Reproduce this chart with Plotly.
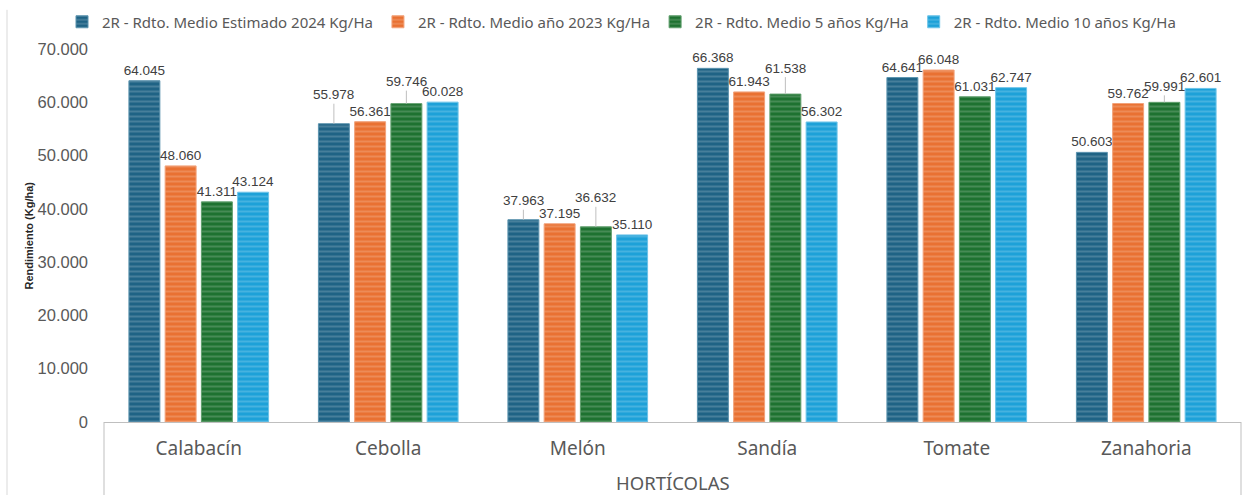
import plotly.graph_objects as go

# ==== Data ====
cultivos = ["Calabacín", "Cebolla", "Melón", "Sandía", "Tomate", "Zanahoria"]
series_names = [
    "2R - Rdto. Medio Estimado 2024 Kg/Ha",
    "2R - Rdto. Medio año 2023 Kg/Ha",
    "2R - Rdto. Medio 5 años Kg/Ha",
    "2R - Rdto. Medio 10 años Kg/Ha",
]
rdto_2024 = [64045, 55978, 37963, 66368, 64641, 50603]
rdto_2023 = [48060, 56361, 37195, 61943, 66048, 59762]
rdto_5 = [41311, 59746, 36632, 61538, 61031, 59991]
rdto_10 = [43124, 60028, 35110, 56302, 62747, 62601]
y_ticks = [0, 10000, 20000, 30000, 40000, 50000, 60000, 70000]

# ==== Style ====
colors = ["#1F6385", "#E97132", "#1E7230", "#1DA1D8"]
edge = ["#5B93AE", "#F2A27A", "#5F9E6C", "#6CC3E8"]
# labels that Excel moved up with a leader line: (serie, categoria) -> pixel offset
leader = {(0, 1): -29, (2, 1): -22, (0, 2): -19, (2, 2): -29, (2, 3): -26, (2, 5): -16}

bargap = 0.235
slot = (1 - bargap) / 4

fmt = lambda v: f"{v:,}".replace(",", ".")
label_font = dict(family="Liberation Sans", size=13.5, color="#404040")

fig = go.Figure()
for i, (name, vals) in enumerate(zip(series_names, [rdto_2024, rdto_2023, rdto_5, rdto_10])):
    texts = ["" if (i, j) in leader else fmt(v) for j, v in enumerate(vals)]
    fig.add_trace(go.Bar(
        x=cultivos, y=vals, name=name,
        text=texts, textposition="outside", cliponaxis=False, constraintext="none",
        textfont=label_font,
        marker=dict(
            color=colors[i],
            line=dict(color=edge[i], width=1),
            pattern=dict(shape="-", bgcolor=colors[i], fgcolor="white",
                         fgopacity=0.18, size=5, solidity=0.4),
        ),
    ))
    for j, v in enumerate(vals):
        if (i, j) in leader:
            fig.add_annotation(
                x=j + (i - 1.5) * slot, y=v, text=fmt(v),
                showarrow=True, arrowhead=0, arrowwidth=1, arrowcolor="#BFBFBF",
                ax=0, ay=leader[(i, j)], standoff=0,
                font=label_font,
            )

# axis title and group label
fig.add_annotation(x=-0.0668, y=0.5, xref="paper", yref="paper", text="<b>Rendimiento (Kg/ha)</b>",
                   textangle=-90, showarrow=False, xanchor="center", yanchor="middle",
                   font=dict(family="Liberation Sans", size=11, color="#262626"))
fig.add_annotation(x=0.5, y=-0.163, xref="paper", yref="paper", text="HORTÍCOLAS",
                   showarrow=False, xanchor="center", yanchor="middle",
                   font=dict(family="Noto Sans", size=18.5, color="#595959"))

# border lines
line_style = dict(color="#D9D9D9", width=1)
fig.add_shape(type="line", xref="paper", yref="paper", x0=-0.0853, x1=-0.0853, y0=-0.2, y1=1.105, line=line_style)
fig.add_shape(type="line", xref="paper", yref="paper", x0=-0.032, x1=0.016, y0=1.105, y1=1.105, line=line_style)
fig.add_shape(type="line", xref="paper", yref="paper", x0=0, x1=0, y0=-0.2, y1=0, line=dict(color="#BFBFBF", width=1))
fig.add_shape(type="line", xref="paper", yref="paper", x0=1, x1=1, y0=-0.2, y1=0, line=dict(color="#BFBFBF", width=1))

fig.update_layout(
    width=1250, height=495,
    barmode="group", bargap=bargap, bargroupgap=0.146,
    separators=",.",
    plot_bgcolor="white", paper_bgcolor="white",
    margin=dict(l=104, r=9, t=49, b=73, autoexpand=False),
    font=dict(family="Noto Sans", color="#595959"),
    legend=dict(orientation="h", x=62 / 1250, xref="container", xanchor="left",
                y=1 - 22 / 495, yref="container", yanchor="middle",
                font=dict(family="Noto Sans", size=15, color="#595959"),
                itemwidth=30, tracegroupgap=0),
    xaxis=dict(showline=True, linecolor="#BFBFBF", ticks="", ticklabelstandoff=9, automargin=False,
               tickfont=dict(family="Noto Sans", size=19, color="#595959")),
    yaxis=dict(range=[0, 70000], tickvals=y_ticks, tickformat=",.0f", showgrid=False,
               zeroline=False, showline=False, ticklabelstandoff=15, automargin=False,
               tickfont=dict(family="Liberation Sans", size=16.5, color="#595959")),
)

fig.write_html("out.html", config={"displayModeBar": False},
               post_script="document.body.style.margin='0';")
